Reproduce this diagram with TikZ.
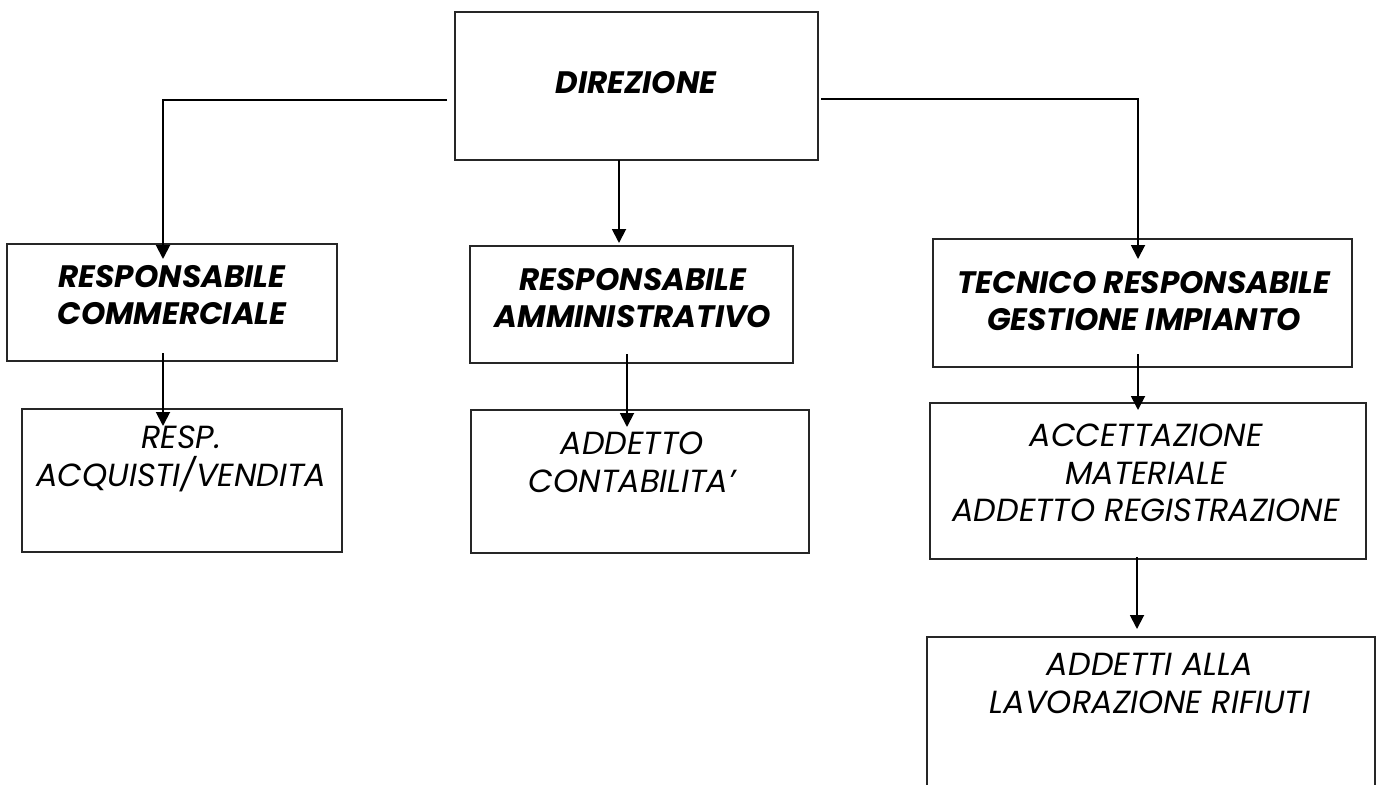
\documentclass[tikz,border=0pt]{standalone}
\usepackage{fontspec}
\setmainfont{Poppins}
\usetikzlibrary{arrows.meta,calc}
\begin{document}
\begin{tikzpicture}[x=1pt,y=-1pt,
  box/.style={draw=black!85,line width=1.3pt,inner sep=0pt,outer sep=0pt,rectangle},
  hd/.style={font=\fontsize{31}{37}\selectfont\bfseries\itshape,align=center,inner sep=0pt,anchor=north},
  tx/.style={font=\fontsize{32}{37.5}\selectfont\itshape,align=center,inner sep=0pt,anchor=north},
  conn/.style={line width=1.9pt,-{Triangle[length=14pt,width=14pt]}}
]
\useasboundingbox[fill=white] (0,0) rectangle (1378,784);

% boxes
\node[box,minimum width=363pt,minimum height=148pt] (dir) at (636.5,86) {};
\node[box,minimum width=330pt,minimum height=117pt] (rc) at (172,302.5) {};
\node[box,minimum width=323pt,minimum height=117pt] (ra) at (631.5,304.5) {};
\node[box,minimum width=419pt,minimum height=128pt] (tr) at (1142.5,303) {};
\node[box,minimum width=320pt,minimum height=143pt] (resp) at (182,480.5) {};
\node[box,minimum width=338pt,minimum height=143pt] (add) at (640,481.5) {};
\node[box,minimum width=436pt,minimum height=156pt] (acc) at (1148,481) {};
\node[box,minimum width=448pt,minimum height=170pt] (lav) at (1151,722) {};

% texts
\node[hd] (tdir) at (636,71) {DIREZIONE};
\node[hd] (trc) at (172,265) {RESPONSABILE\\COMMERCIALE};
\node[hd] (tra) at (633,268) {RESPONSABILE\\AMMINISTRATIVO};
\node[hd] (ttr) at (1144,271) {TECNICO RESPONSABILE\\GESTIONE IMPIANTO};
\node[tx] (tresp) at (181,426) {RESP.\\ACQUISTI/VENDITA};
\node[tx] (tadd) at (632,432) {ADDETTO\\CONTABILITA’};
\node[tx] (tacc) at (1146,424) {ACCETTAZIONE\\MATERIALE\\ADDETTO REGISTRAZIONE};
\node[tx] (tlav) at (1150,653) {ADDETTI ALLA\\LAVORAZIONE RIFIUTI};

% connector end points
\coordinate (dl) at (447,100);
\coordinate (rcin) at (163,259);
\coordinate (dr) at (821,99);
\coordinate (trin) at (1138,259);
\coordinate (dm) at (619,160);
\coordinate (rain) at (619,243);
\coordinate (rcout) at (163,353);
\coordinate (respin) at (163,426);
\coordinate (raout) at (627,354);
\coordinate (addin) at (627,427);
\coordinate (trout) at (1138,354);
\coordinate (accin) at (1138,410);
\coordinate (accout) at (1137,557);
\coordinate (lavin) at (1137,629);

\draw[conn] (dl) -| (rcin);
\draw[conn] (dr) -| (trin);
\draw[conn] (dm) -- (rain);
\draw[conn] (rcout) -- (respin);
\draw[conn] (raout) -- (addin);
\draw[conn] (trout) -- (accin);
\draw[conn] (accout) -- (lavin);
\end{tikzpicture}
\end{document}
